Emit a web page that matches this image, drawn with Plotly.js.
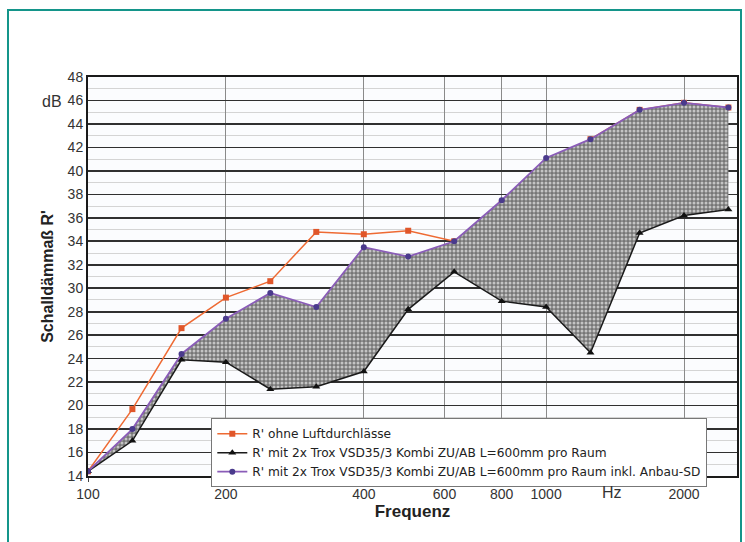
<!DOCTYPE html>
<html>
<head>
<meta charset="utf-8">
<script src="https://cdn.plot.ly/plotly-3.0.1.min.js"></script>
<style>
  html, body { margin: 0; padding: 0; background: #fff; }
  #frame { position: absolute; left: 7px; top: 9px; width: 731px; height: 540px;
           border-left: 2px solid #14958a; border-top: 2px solid #14958a; border-right: 2px solid #14958a; }
  #chart { position: absolute; left: 0; top: 0; width: 745px; height: 542px; }
</style>
</head>
<body>
<div id="frame"></div>
<div id="chart"></div>
<script>
const freqs = [100, 125, 160, 200, 250, 315, 400, 500, 630, 800, 1000, 1250, 1600, 2000, 2500];
const rOhne = [14.4, 19.7, 26.6, 29.2, 30.6, 34.8, 34.6, 34.9, 34.0, 37.2, 40.6, 42.7, 45.2, 45.8, 45.4];
const rMit = [14.4, 17.0, 23.9, 23.7, 21.4, 21.6, 22.9, 28.2, 31.4, 28.9, 28.4, 24.5, 34.7, 36.2, 36.7];
const rMitSD = [14.4, 18.0, 24.4, 27.4, 29.6, 28.4, 33.5, 32.7, 34.0, 37.5, 41.1, 42.7, 45.2, 45.8, 45.4];

const names = [
  "R' ohne Luftdurchlässe",
  "R' mit 2x Trox VSD35/3 Kombi ZU/AB L=600mm pro Raum",
  "R' mit 2x Trox VSD35/3 Kombi ZU/AB L=600mm pro Raum inkl. Anbau-SD"
];
const xTickVals = [100, 200, 400, 600, 800, 1000, 2000];
const xTickText = ['100', '200', '400', '600', '800', '1000', '2000'];
const xMajorGrid = [400, 1000];
const yTicks = [14, 16, 18, 20, 22, 24, 26, 28, 30, 32, 34, 36, 38, 40, 42, 44, 46, 48];

const FONT = 'Liberation Sans, Arial, sans-serif';

const traces = [
  {
    x: freqs, y: rOhne, name: names[0], type: 'scatter', mode: 'lines+markers',
    line: {color: '#ee6a33', width: 1.5},
    marker: {symbol: 'square', size: 6, color: '#e0562a'}
  },
  {
    x: freqs, y: rMit, name: names[1], type: 'scatter', mode: 'lines+markers',
    line: {color: '#1a1a1a', width: 1.5},
    marker: {symbol: 'triangle-up', size: 7, color: '#111'}
  },
  {
    x: freqs, y: rMitSD, name: 'fill', type: 'scatter', mode: 'lines', showlegend: false,
    fill: 'tonexty', fillcolor: '#808080',
    fillpattern: {shape: '.', bgcolor: '#767676', fgcolor: '#c4c4c4', size: 4, solidity: 0.45},
    line: {width: 0, color: 'rgba(0,0,0,0)'}
  },
  {
    x: freqs, y: rMitSD, name: names[2], type: 'scatter', mode: 'lines+markers',
    line: {color: '#8a5cb8', width: 1.8},
    marker: {symbol: 'circle', size: 6, color: '#4a3a8c'}
  }
];

const layout = {
  width: 745, height: 542,
  margin: {l: 88, r: 8, t: 76.5, b: 65.5},
  paper_bgcolor: 'rgba(0,0,0,0)',
  plot_bgcolor: '#fbfcfe',
  font: {family: FONT, color: '#333'},
  showlegend: true,
  legend: {
    x: 0.19, y: 0.145, xanchor: 'left', yanchor: 'top',
    bgcolor: '#ffffff', bordercolor: '#777', borderwidth: 1,
    font: {family: 'DejaVu Sans, sans-serif', size: 12.2, color: '#222'},
    traceorder: 'normal', itemwidth: 30, tracegroupgap: 0
  },
  xaxis: {
    type: 'log', range: [2, 3.4167],
    tickmode: 'array', tickvals: xTickVals, ticktext: xTickText,
    tickfont: {family: FONT, size: 14, color: '#333'},
    ticks: 'outside', ticklen: 4, tickcolor: '#444',
    showgrid: true, gridcolor: '#8a8a8a', gridwidth: 1,
    showline: true, linecolor: '#1a1a1a', linewidth: 2, mirror: true,
    zeroline: false,
    title: {text: 'Frequenz', font: {family: FONT, size: 17, color: '#222', weight: 'bold'}, standoff: 2},
    automargin: false
  },
  xaxis2: {
    type: 'log', range: [2, 3.4167], overlaying: 'x', matches: 'x',
    tickmode: 'array', tickvals: xMajorGrid, showticklabels: false,
    showgrid: true, gridcolor: '#2a2a2a', gridwidth: 1.6,
    showline: false, zeroline: false
  },
  yaxis: {
    range: [14, 48],
    tickmode: 'array', tickvals: yTicks,
    tickfont: {family: FONT, size: 14, color: '#333'},
    ticks: '',
    showgrid: true, gridcolor: '#303030', gridwidth: 1.7,
    minor: {dtick: 1, showgrid: true, gridcolor: '#d4d4d4', gridwidth: 1},
    showline: true, linecolor: '#1a1a1a', linewidth: 2, mirror: true,
    zeroline: false,
    title: {text: "Schalldämmaß R'", font: {family: FONT, size: 16, color: '#222', weight: 'bold'}, standoff: 10},
    automargin: false
  },
  annotations: [
    {text: 'dB', xref: 'paper', yref: 'paper', x: -0.0555, y: 0.939,
     xanchor: 'center', yanchor: 'middle', showarrow: false,
     font: {family: FONT, size: 16, color: '#333'}},
    {text: 'Hz', xref: 'paper', yref: 'paper', x: 0.807, y: -0.042,
     xanchor: 'center', yanchor: 'middle', showarrow: false,
     font: {family: FONT, size: 16, color: '#333'}}
  ]
};

Plotly.newPlot('chart', traces, layout, {displayModeBar: false, staticPlot: true});
</script>
</body>
</html>
